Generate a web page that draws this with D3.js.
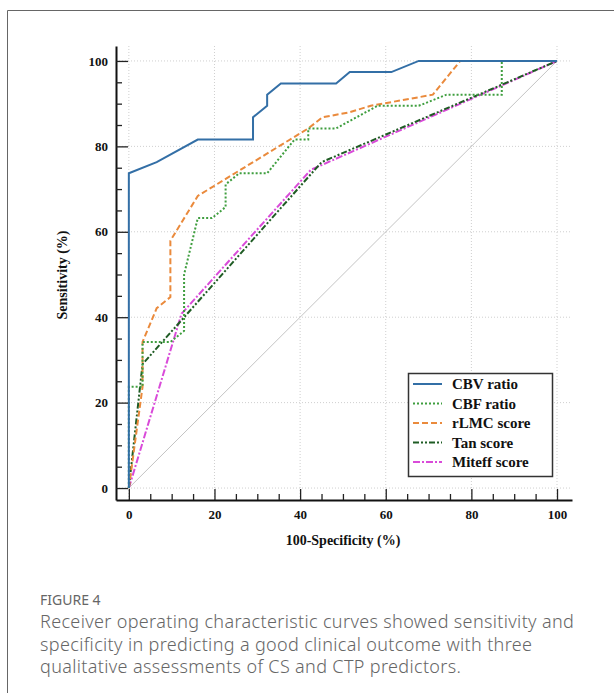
<!DOCTYPE html>
<html>
<head>
<meta charset="utf-8">
<script src="https://cdn.jsdelivr.net/npm/d3@7"></script>
<style>
  body { margin: 0; background: #fff; }
  svg { display: block; }
</style>
</head>
<body>
<svg id="chart" width="614" height="693"></svg>
<script>
// ROC points, [100-specificity, sensitivity] in %
var cbv = [[0,0],[0,73.7],[6.5,76.3],[16.1,81.6],[29,81.6],[29,86.8],[32.3,89.5],[32.3,92.1],[35.5,94.7],[48.4,94.7],[51.6,97.4],[61.3,97.4],[67.7,100],[100,100]];
var cbf = [[0,0],[0,23.7],[3.2,23.7],[3.2,34.2],[9.7,34.2],[12.9,36.8],[12.9,50],[16.1,63.2],[19.4,63.2],[22.6,65.8],[22.6,71.1],[25.8,73.7],[32.3,73.7],[38.7,81.6],[41.9,81.6],[41.9,84.2],[48.4,84.2],[58.1,89.5],[67.7,89.5],[74.2,92.1],[87.1,92.1],[87.1,100],[100,100]];
var rlmc = [[0,0],[3.2,23.7],[3.2,34.2],[6.5,42.1],[9.7,44.7],[9.7,57.9],[16.1,68.4],[41.9,84.2],[45.2,86.8],[51.6,88],[56.5,89.5],[71,92.1],[77.4,100],[100,100]];
var tan = [[0,0],[3.2,29],[45,76.3],[100,100]];
var miteff = [[0,0],[12.3,40.8],[42.5,74.5],[100,100]];

var seriesNames = ["CBV ratio", "CBF ratio", "rLMC score", "Tan score", "Miteff score"];
var seriesData = [cbv, cbf, rlmc, tan, miteff];
var seriesColors = ["#336fa6", "#3f9e3f", "#ea8a3c", "#1f5c24", "#d94bd9"];
var seriesDash = [null, "2,2", "6,3", "6,2,2,2,2,2", "7,2,2,2"];

var majorTicks = [0, 20, 40, 60, 80, 100];
var minorTicks = d3.range(0, 101, 5).filter(function (d) { return d % 20 != 0; });

var svg = d3.select("#chart");

// page frame
svg.append("path")
    .attr("d", "M7.5,693V10.5H614")
    .attr("fill", "none")
    .attr("stroke", "#666")
    .attr("stroke-width", 1);

var x = d3.scaleLinear().domain([-3, 103.5]).range([116, 572]);
var y = d3.scaleLinear().domain([-2.8, 103.5]).range([500, 46]);

// dotted grid
var grid = svg.append("g").attr("stroke", "#cfcfcf").attr("stroke-dasharray", "1,2");
grid.selectAll("line.v").data(majorTicks).enter().append("line")
    .attr("x1", function (d) { return x(d); }).attr("x2", function (d) { return x(d); })
    .attr("y1", y(103.5)).attr("y2", y(-2.8));
grid.selectAll("line.h").data(majorTicks).enter().append("line")
    .attr("y1", function (d) { return y(d); }).attr("y2", function (d) { return y(d); })
    .attr("x1", x(-3)).attr("x2", x(103.5));

// reference diagonal
svg.append("line")
    .attr("x1", x(0)).attr("y1", y(0))
    .attr("x2", x(100)).attr("y2", y(100))
    .attr("stroke", "#c4c4c4").attr("stroke-width", 1);

var line = d3.line()
    .x(function (d) { return x(d[0]); })
    .y(function (d) { return y(d[1]); });

// draw back to front so CBV sits on top
for (var i = seriesData.length - 1; i >= 0; i--) {
  svg.append("path")
      .datum(seriesData[i])
      .attr("d", line)
      .attr("fill", "none")
      .attr("stroke", seriesColors[i])
      .attr("stroke-width", 2)
      .attr("stroke-dasharray", seriesDash[i]);
}

// axes, ticks point inward
var fontTick = "bold 13px 'Liberation Serif', 'Times New Roman', serif";

svg.append("g").attr("transform", "translate(116,0)")
    .call(d3.axisLeft(y).tickValues(majorTicks).tickSizeInner(-12).tickSizeOuter(0).tickPadding(8));
svg.append("g").attr("transform", "translate(116,0)")
    .call(d3.axisLeft(y).tickValues(minorTicks).tickSizeInner(-6).tickSizeOuter(0).tickFormat(""))
    .select(".domain").remove();

svg.append("g").attr("transform", "translate(0,500)")
    .call(d3.axisBottom(x).tickValues(majorTicks).tickSizeInner(-11).tickSizeOuter(0).tickPadding(10));
svg.append("g").attr("transform", "translate(0,500)")
    .call(d3.axisBottom(x).tickValues(minorTicks).tickSizeInner(-6).tickSizeOuter(0).tickFormat(""))
    .select(".domain").remove();

svg.selectAll(".domain").attr("stroke", "#111").attr("stroke-width", 2);
svg.selectAll(".tick line").attr("stroke", "#222").attr("stroke-width", 1.3);
svg.selectAll(".tick text").style("font", fontTick).attr("fill", "#111");

// axis titles
svg.append("text")
    .attr("transform", "translate(67,275) rotate(-90)")
    .attr("text-anchor", "middle")
    .style("font", "bold 14px 'Liberation Serif', 'Times New Roman', serif")
    .attr("fill", "#111")
    .text("Sensitivity (%)");
svg.append("text")
    .attr("x", 343).attr("y", 545)
    .attr("text-anchor", "middle")
    .style("font", "bold 14px 'Liberation Serif', 'Times New Roman', serif")
    .attr("fill", "#111")
    .text("100-Specificity (%)");

// legend
var legend = svg.append("g");
legend.append("rect")
    .attr("x", 408.5).attr("y", 373.5).attr("width", 144).attr("height", 103)
    .attr("fill", "#fff").attr("stroke", "#333").attr("stroke-width", 1.5);
var items = legend.selectAll("g.item").data(seriesNames).enter().append("g")
    .attr("transform", function (d, i) { return "translate(0," + (384 + i * 19.5) + ")"; });
items.append("line")
    .attr("x1", 413).attr("x2", 442)
    .attr("stroke", function (d, i) { return seriesColors[i]; })
    .attr("stroke-width", 2)
    .attr("stroke-dasharray", function (d, i) { return seriesDash[i]; });
items.append("text")
    .attr("x", 452).attr("y", 5)
    .style("font", "bold 15px 'Liberation Serif', 'Times New Roman', serif")
    .attr("fill", "#111")
    .text(function (d) { return d; });

// caption
svg.append("text")
    .attr("x", 40).attr("y", 605)
    .style("font", "14px 'Noto Sans', sans-serif")
    .attr("fill", "#666")
    .text("FIGURE 4");
var captionLines = [
  "Receiver operating characteristic curves showed sensitivity and",
  "specificity in predicting a good clinical outcome with three",
  "qualitative assessments of CS and CTP predictors."
];
svg.selectAll("text.cap").data(captionLines).enter().append("text")
    .attr("class", "cap")
    .attr("x", 40)
    .attr("y", function (d, i) { return 628 + i * 22.5; })
    .style("font", "300 18px 'Noto Sans', sans-serif")
    .style("letter-spacing", "0.35px")
    .attr("fill", "#666")
    .text(function (d) { return d; });
</script>
</body>
</html>
